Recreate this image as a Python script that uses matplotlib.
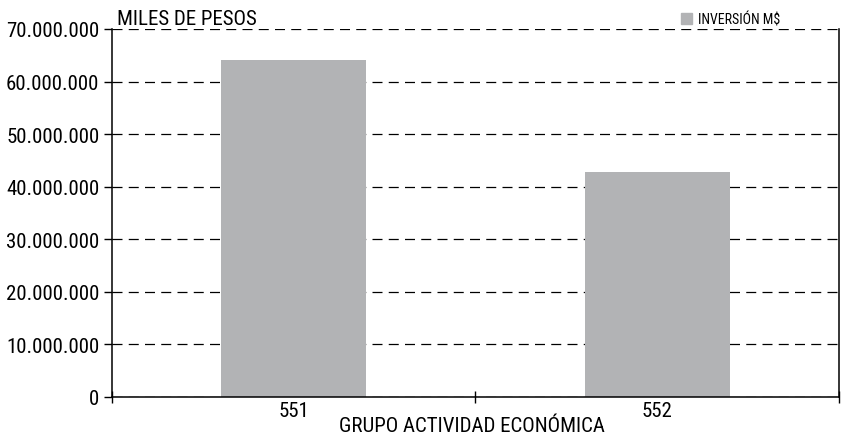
import numpy as np
import matplotlib.pyplot as plt
from matplotlib.ticker import FuncFormatter, FixedLocator
from matplotlib.patches import Patch

plt.rcParams['font.family'] = ['Roboto Condensed', 'Archivo Narrow', 'DejaVu Sans']

grupos = ['551', '552']
inversion = [64100000, 42700000]
yticks = np.arange(0, 70000001, 10000000)

fig = plt.figure(figsize=(8.42, 4.35), dpi=100)
ax = fig.add_axes([0.133, 0.0851, 0.8634, 0.846])

x = np.arange(len(grupos))
ax.bar(x, inversion, width=0.40, color='#b2b3b5', zorder=2)

ax.set_xlim(-0.5, 1.5)
ax.set_ylim(0, 70000000)
ax.set_yticks(yticks)
ax.yaxis.set_major_formatter(FuncFormatter(lambda v, p: f'{int(v):,}'.replace(',', '.')))
ax.grid(axis='y', linestyle=(0, (8, 5)), color='black', linewidth=0.9, zorder=1)

ax.set_xticks(x)
ax.set_xticklabels(grupos)
ax.xaxis.set_minor_locator(FixedLocator([-0.5, 0.5, 1.5]))
ax.tick_params(axis='x', which='major', length=0, pad=3, labelsize=15)
ax.tick_params(axis='x', which='minor', length=8, direction='inout', width=1)
ax.tick_params(axis='y', length=6, width=1, pad=3, labelsize=15)

ax.spines['top'].set_visible(False)
for s in ['left', 'right', 'bottom']:
    ax.spines[s].set_linewidth(1.1)

fig.text(471.5 / 842, 2.5 / 435, 'GRUPO ACTIVIDAD ECONÓMICA', fontsize=15,
         ha='center', va='baseline')
ax.text(0.007, 1.013, 'MILES DE PESOS', transform=ax.transAxes, fontsize=15,
        ha='left', va='baseline')

fig.legend(handles=[Patch(color='#b2b3b5', label='INVERSIÓN M$')],
           loc='center right', bbox_to_anchor=(790 / 842, 1 - 20 / 435), frameon=False,
           fontsize=10, handlelength=0.8, handleheight=0.8, handletextpad=0.4,
           borderpad=0.2)

fig.savefig('out.png', dpi=100)
